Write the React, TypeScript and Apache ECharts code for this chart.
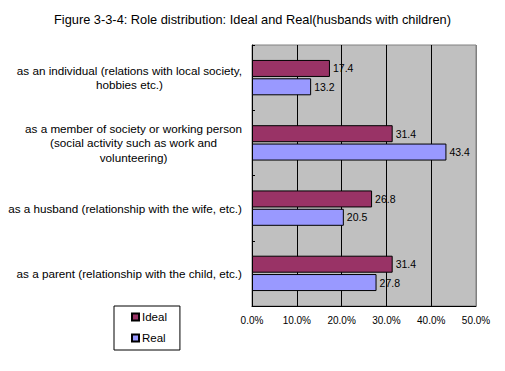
import React, { useEffect, useRef } from "react";
import * as echarts from "echarts";

const categories = [
  "as an individual (relations with local society,\nhobbies etc.)",
  "as a member of society or working person\n(social activity such as work and\nvolunteering)",
  "as a husband (relationship with the wife, etc.)",
  "as a parent (relationship with the child, etc.)",
];
const idealValues = [17.4, 31.4, 26.8, 31.4];
const realValues = [13.2, 43.4, 20.5, 27.8];
const xTicks = [0, 10, 20, 30, 40, 50];
const titleText = "Figure 3-3-4: Role distribution: Ideal and Real(husbands with children)";

const FONT = "'Liberation Sans', Arial, sans-serif";

export default function App() {
  const ref = useRef<HTMLDivElement>(null);
  useEffect(() => {
    if (!ref.current) return;
    const chart = echarts.init(ref.current, undefined, { renderer: "svg" });
    const labelStyle = {
      show: true,
      position: "right" as const,
      distance: 3,
      fontSize: 10.5,
      fontFamily: FONT,
      color: "#000",
      formatter: (p: any) => Number(p.value).toFixed(1),
    };
    chart.setOption({
      animation: false,
      backgroundColor: "#fff",
      title: {
        text: titleText,
        left: "center",
        top: 8,
        textStyle: { fontSize: 12.8, fontWeight: "normal", color: "#000", fontFamily: FONT },
      },
      legend: {
        orient: "vertical",
        left: 114,
        top: 306,
        data: ["Ideal", "Real"],
        backgroundColor: "#fff",
        borderColor: "#000",
        borderWidth: 1,
        padding: [5, 13, 6, 17],
        itemWidth: 7,
        itemHeight: 7,
        itemGap: 9,
        icon: "rect",
        textStyle: { fontSize: 11.5, color: "#000", fontFamily: FONT, padding: [0, 0, 0, -2] },
      },
      grid: {
        left: 252,
        right: 29,
        top: 45,
        bottom: 65,
        show: true,
        backgroundColor: "#C0C0C0",
        borderColor: "#808080",
        borderWidth: 1,
      },
      xAxis: {
        type: "value",
        min: xTicks[0],
        max: xTicks[xTicks.length - 1],
        interval: 10,
        axisLine: { show: true, lineStyle: { color: "#000", width: 1 } },
        axisTick: { show: false },
        splitLine: {
          show: true,
          lineStyle: { color: ["#000", "#000", "#000", "#000", "#000", "#808080"], width: 1 },
        },
        axisLabel: {
          fontSize: 10,
          fontFamily: FONT,
          color: "#000",
          margin: 9,
          formatter: (v: number) => v.toFixed(1) + "%",
        },
      },
      yAxis: {
        type: "category",
        inverse: true,
        data: categories,
        axisLine: { show: true, lineStyle: { color: "#000", width: 1 } },
        axisTick: { show: true, inside: true, length: 3, lineStyle: { color: "#000" } },
        axisLabel: {
          align: "right",
          margin: 10,
          color: "#000",
          fontSize: 11.7,
          fontFamily: FONT,
          formatter: (v: string) =>
            v
              .split("\n")
              .map((l) => `{c|${l}}`)
              .join("\n"),
          rich: {
            c: { align: "center", fontSize: 11.7, fontFamily: FONT, color: "#000", lineHeight: 14.7 },
          },
        },
      },
      series: [
        {
          name: "Ideal",
          type: "bar",
          data: idealValues,
          barWidth: 17,
          barGap: "8%",
          itemStyle: { color: "#993366", borderColor: "#000", borderWidth: 1 },
          label: labelStyle,
        },
        {
          name: "Real",
          type: "bar",
          data: realValues,
          barWidth: 17,
          barGap: "8%",
          itemStyle: { color: "#9999FF", borderColor: "#000", borderWidth: 1 },
          label: labelStyle,
        },
      ],
    });
    return () => chart.dispose();
  }, []);
  return (
    <div
      ref={ref}
      style={{ position: "fixed", left: 0, top: 0, width: 505, height: 371 }}
    />
  );
}
